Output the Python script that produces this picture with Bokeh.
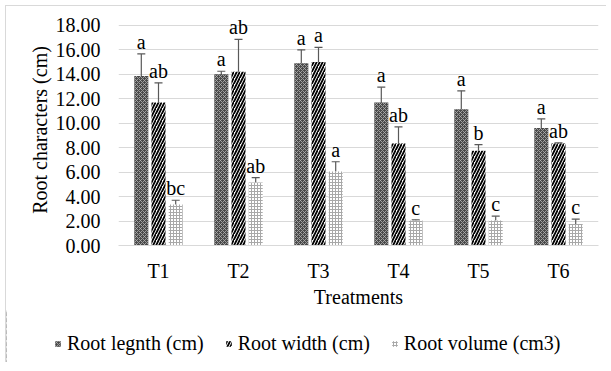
from bokeh.plotting import figure
from bokeh.models import (ColumnDataSource, FactorRange, Range1d, Whisker, TeeHead,
                          NumeralTickFormatter, FixedTicker, Legend, LegendItem)
from bokeh.layouts import column
from bokeh.transform import dodge
from bokeh.core.properties import value
from bokeh.embed import file_html
from bokeh.resources import INLINE

treatments = ["T1", "T2", "T3", "T4", "T5", "T6"]
series_names = ["Root legnth (cm)", "Root width (cm)", "Root volume (cm3)"]

root_length = [13.87, 14.00, 14.90, 11.70, 11.15, 9.60]
root_length_err = [1.80, 0.25, 1.10, 1.25, 1.50, 0.75]
root_length_letters = ["a", "a", "a", "a", "a", "a"]

root_width = [11.70, 14.20, 15.00, 8.35, 7.75, 8.35]
root_width_err = [1.60, 2.65, 1.20, 1.35, 0.50, 0.05]
root_width_letters = ["ab", "ab", "a", "ab", "b", "ab"]

root_volume = [3.35, 5.15, 6.05, 2.05, 2.05, 1.75]
root_volume_err = [0.35, 0.40, 0.80, 0.05, 0.35, 0.40]
root_volume_letters = ["bc", "ab", "a", "c", "c", "c"]

y_ticks = [0, 2, 4, 6, 8, 10, 12, 14, 16, 18]

FONT = "Liberation Serif"

p = figure(x_range=FactorRange(factors=treatments, range_padding=0),
           y_range=Range1d(0, 19.3),
           width=600, height=304, output_backend="svg", toolbar_location=None,
           min_border_left=112, min_border_right=8, min_border_top=3, min_border_bottom=62)
p.frame_align = False
p.outline_line_color = None
p.background_fill_color = "white"

styles = [
    dict(fill_color="#4a4a4a", hatch_pattern="diagonal_cross", hatch_color="#b4b4b4",
         hatch_scale=4, hatch_weight=0.8),
    dict(fill_color="white", hatch_pattern="right_diagonal_line", hatch_color="black",
         hatch_scale=6, hatch_weight=1.8),
    dict(fill_color="white", hatch_pattern="cross", hatch_color="#a8a8a8",
         hatch_scale=3, hatch_weight=1),
]
offsets = [-0.215, 0.0, 0.215]
vals = [root_length, root_width, root_volume]
errs = [root_length_err, root_width_err, root_volume_err]
letters = [root_length_letters, root_width_letters, root_volume_letters]

for i in range(3):
    src = ColumnDataSource(dict(
        x=treatments, top=vals[i],
        upper=[v + e for v, e in zip(vals[i], errs[i])],
        lower=[v - e for v, e in zip(vals[i], errs[i])],
        lab=letters[i]))
    p.vbar(x=dodge("x", offsets[i], range=p.x_range), top="top", width=0.175,
           source=src, line_color=None, **styles[i])
    w = Whisker(base=dodge("x", offsets[i], range=p.x_range), upper="upper", lower="lower",
                source=src, line_color="#595959", line_width=1.2,
                upper_head=TeeHead(size=8, line_color="#595959", line_width=1.2),
                lower_head=TeeHead(size=8, line_color="#595959", line_width=1.2))
    p.add_layout(w)
    p.text(x=dodge("x", offsets[i], range=p.x_range), y="upper", text="lab", source=src,
           text_align="center", text_baseline="bottom", y_offset=-1,
           text_font=value(FONT), text_font_size="20px", text_color="black")

# axes
p.yaxis.ticker = FixedTicker(ticks=y_ticks)
p.yaxis.formatter = NumeralTickFormatter(format="0.00")
p.yaxis.axis_line_color = None
p.yaxis.major_tick_line_color = None
p.yaxis.minor_tick_line_color = None
p.yaxis.major_label_text_font = FONT
p.yaxis.major_label_text_font_size = "20px"
p.yaxis.major_label_text_color = "black"
p.yaxis.major_label_standoff = 12
p.yaxis.axis_label = "Root  characters (cm)"
p.yaxis.axis_label_text_font = FONT
p.yaxis.axis_label_text_font_size = "20px"
p.yaxis.axis_label_text_font_style = "normal"
p.yaxis.axis_label_text_color = "black"
p.yaxis.axis_label_standoff = 2

p.xaxis.axis_line_color = "#d9d9d9"
p.xaxis.major_tick_line_color = None
p.xaxis.minor_tick_line_color = None
p.xaxis.major_label_text_font = FONT
p.xaxis.major_label_text_font_size = "20px"
p.xaxis.major_label_text_color = "black"
p.xaxis.major_label_standoff = 8
p.xaxis.axis_label = "Treatments"
p.xaxis.axis_label_text_font = FONT
p.xaxis.axis_label_text_font_size = "20px"
p.xaxis.axis_label_text_font_style = "normal"
p.xaxis.axis_label_text_color = "black"
p.xaxis.axis_label_standoff = 1

p.xgrid.grid_line_color = None
p.ygrid.grid_line_color = "#d9d9d9"
p.ygrid.grid_line_width = 1

# legend strip below the chart
lf = figure(width=600, height=52, output_backend="svg", toolbar_location=None,
            x_range=Range1d(0, 1), y_range=Range1d(0, 1),
            min_border_left=0, min_border_right=0, min_border_top=0, min_border_bottom=0)
lf.frame_align = False
lf.axis.visible = False
lf.grid.visible = False
lf.outline_line_color = None
items = []
for i in range(3):
    # hidden swatch renderer (outside the visible range) used only for the legend key
    r = lf.vbar(x=[-10], top=[vals[i][0]], width=0.1, line_color=None, **styles[i])
    items.append(LegendItem(label=series_names[i], renderers=[r]))
legend = Legend(items=items, orientation="horizontal", location=(48, 7),
                border_line_color=None, background_fill_alpha=0,
                label_text_font=FONT, label_text_font_size="20px", label_text_color="black",
                glyph_width=7, glyph_height=7, label_standoff=6, spacing=21,
                padding=0, margin=0)
lf.add_layout(legend, "center")

layout = column(p, lf, spacing=0)
layout.styles = {"border-left": "1px solid #d9d9d9", "border-top": "1px solid #d9d9d9",
                 "margin-left": "5px", "margin-top": "5px"}
open("out.html", "w").write(file_html(layout, INLINE))
